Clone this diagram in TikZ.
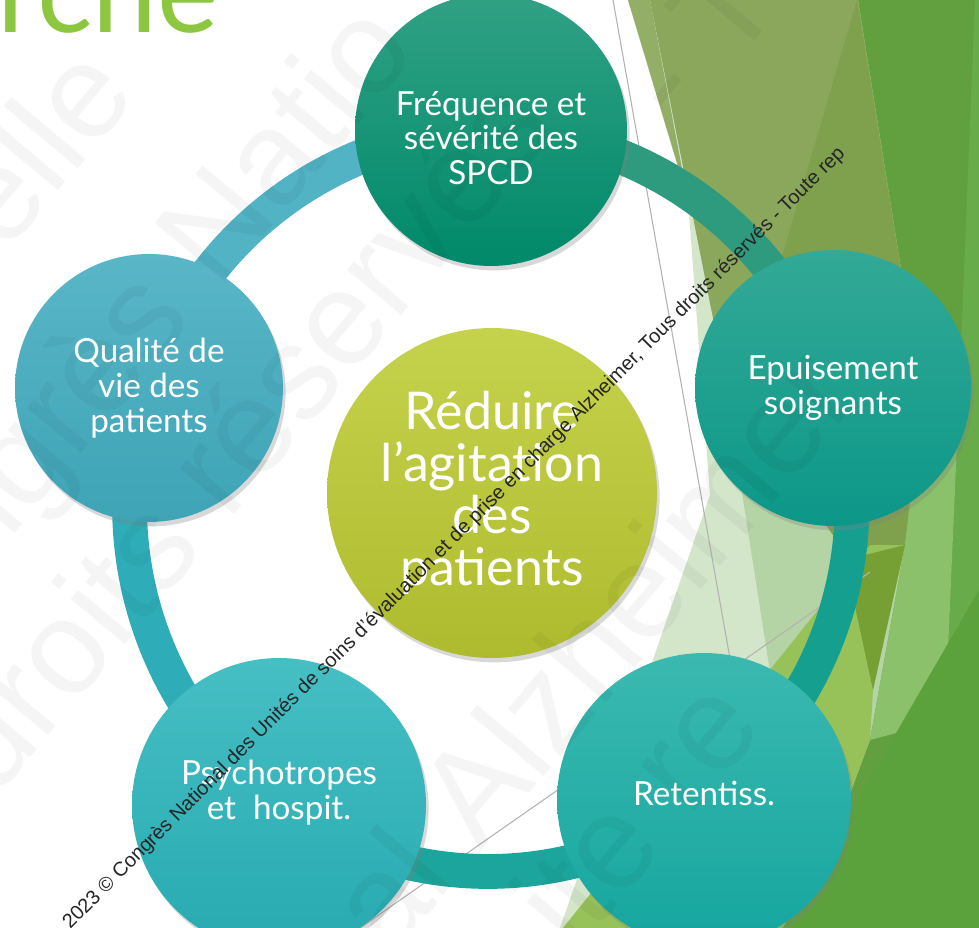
\documentclass[tikz,border=0pt]{standalone}
\usepackage{fontspec}
\setmainfont{Lato}
\newfontfamily\wmfont{Liberation Sans}
\usetikzlibrary{shadows, positioning}

\definecolor{titlegreen}{HTML}{8DC63F}
\definecolor{topA}{HTML}{31A184}\definecolor{topB}{HTML}{00896A}
\definecolor{rightA}{HTML}{33A997}\definecolor{rightB}{HTML}{0C9788}
\definecolor{brA}{HTML}{3BB9B0}\definecolor{brB}{HTML}{15A69F}
\definecolor{blA}{HTML}{46BFC4}\definecolor{blB}{HTML}{27AAB0}
\definecolor{leftA}{HTML}{59B6C7}\definecolor{leftB}{HTML}{3EA4B6}
\definecolor{midA}{HTML}{C5D24C}\definecolor{midB}{HTML}{AFBB2E}
\definecolor{arcLT}{HTML}{52B3C4}\definecolor{arcTR}{HTML}{2E9B7E}
\definecolor{arcRB}{HTML}{159F8F}\definecolor{arcBB}{HTML}{1CA59D}
\definecolor{arcBL}{HTML}{2EADB9}
\definecolor{fPale}{HTML}{D3E6CA}\definecolor{fPaleB}{HTML}{B5D4A5}
\definecolor{fGreen}{HTML}{62A03F}\definecolor{fOlive}{HTML}{8BA75C}
\definecolor{fOliveL}{HTML}{93AE66}\definecolor{fOliveD}{HTML}{7FA04D}
\definecolor{fGreenL}{HTML}{67AB4B}\definecolor{fBand}{HTML}{8AC16A}
\definecolor{fLime}{HTML}{97C159}\definecolor{fMoss}{HTML}{76A034}
\definecolor{fDeep}{HTML}{5BA23D}

\pgfdeclarelayer{bg}
\pgfdeclarelayer{ring}
\pgfsetlayers{bg,ring,main}

\tikzset{
    bubble/.style={circle, draw=none, inner sep=0pt,
        drop shadow={shadow xshift=1.5pt, shadow yshift=-2.5pt, opacity=.3}},
    bubtext/.style={text=white, align=center, inner sep=0pt,
        font=\fontsize{18.9}{19.8}\selectfont},
    ringarc/.style={line width=19.8pt, bend left=36, looseness=.94},
    guide/.style={draw=black!30, line width=.6pt},
    wmsmall/.style={font=\wmfont\fontsize{11.4}{11.4}\selectfont, text=black!85,
        rotate=45, anchor=base west, inner sep=0pt},
    wmbig/.style={font=\wmfont\fontsize{76}{76}\selectfont, text=black,
        text opacity=.04, rotate=50, anchor=base west, inner sep=0pt},
}

\begin{document}
\begin{tikzpicture}[x=0.02cm, y=-0.02cm]
    \useasboundingbox (0,0) rectangle (979,928);
    \begin{pgfonlayer}{bg}
        \fill[white] (0,0) rectangle (979,928);
        % facets on the right
        \fill[fPale] (628,0) -- (688,200) -- (710,495) -- (560,928) -- (979,928) -- (979,0) -- cycle;
        \fill[fPaleB] (665,0) -- (810,928) -- (979,928) -- (979,0) -- cycle;
        \fill[fGreen] (858,0) -- (979,0) -- (979,928) -- (800,928) -- (870,740) -- (905,545) -- (922,400) -- cycle;
        \fill[fOlive] (650,0) -- (858,0) -- (922,400) -- (850,480) -- (745,480) -- cycle;
        \fill[fOliveL] (628,0) -- (650,0) -- (688,200) -- cycle;
        \fill[fOliveD] (857,0) -- (740,400) -- (850,560) -- (905,545) -- (922,400) -- cycle;
        \fill[fGreenL] (975,0) -- (979,0) -- (979,740) -- (945,720) -- (958,420) -- cycle;
        \fill[fBand] (922,400) -- (958,420) -- (945,720) -- (870,740) -- (905,545) -- cycle;
        \fill[fLime] (563,928) -- (870,545) -- (905,545) -- (873,690) -- (870,740) -- (800,928) -- cycle;
        \fill[fMoss] (845,560) -- (905,545) -- (873,690) -- cycle;
        \fill[fDeep] (783,928) -- (979,590) -- (979,928) -- cycle;
        \draw[guide] (613,0) -- (740,715);
        \draw[guide] (360,928) -- (870,572);
    \end{pgfonlayer}

    % title, cut by the page
    \node[anchor=base west, inner sep=0pt, text=titlegreen, font=\fontsize{66}{66}\selectfont] (title) at (-3,33) {rche};

    % cycle
    \node[bubble, minimum size=5.44cm, top color=topA, bottom color=topB] (c_top) at (491,130) {};
    \node[bubble, minimum size=5.52cm, top color=rightA, bottom color=rightB] (c_right) at (833,388) {};
    \node[bubble, minimum size=5.88cm, top color=brA, bottom color=brB] (c_botright) at (704,800) {};
    \node[bubble, minimum size=5.88cm, top color=blA, bottom color=blB] (c_botleft) at (279,805) {};
    \node[bubble, minimum size=5.36cm, top color=leftA, bottom color=leftB] (c_left) at (149,388) {};
    \node[bubble, minimum size=6.6cm, top color=midA, bottom color=midB] (c_centre) at (492,493) {};

    \node[bubtext, below=4.5pt of c_top.center, anchor=center] (t_top) {Fréquence et\\sévérité des\\SPCD};
    \node[bubtext, anchor=center] (t_right) at (c_right) {Epuisement\\soignants};
    \node[bubtext, above=4pt of c_botright.center, anchor=center] (t_botright) {Retentiss.};
    \node[bubtext, above=7pt of c_botleft.center, anchor=center] (t_botleft) {Psychotropes\\et\ \ hospit.};
    \node[bubtext, anchor=center] (t_left) at (c_left) {Qualité de\\vie des\\patients};
    \node[bubtext, anchor=center, font=\fontsize{29.6}{29.5}\selectfont] (t_centre) at (c_centre) {Réduire\\l’agitation\\des\\patients};

    \begin{pgfonlayer}{ring}
        \draw[ringarc, arcLT] (c_left.center) to (c_top.center);
        \draw[ringarc, arcTR] (c_top.center) to (c_right.center);
        \draw[ringarc, arcRB] (c_right.center) to (c_botright.center);
        \draw[ringarc, arcBB] (c_botright.center) to (c_botleft.center);
        \draw[ringarc, arcBL] (c_botleft.center) to (c_left.center);
    \end{pgfonlayer}

    % watermarks
    \node[wmbig] (wm_a) at (5,255) {elle};
    \node[wmbig] (wm_b) at (-20,575) {ngrès Natio};
    \node[wmbig] (wm_c) at (-5,800) {droits réservés};
    \node[wmbig] (wm_d) at (680,130) {- To};
    \node[wmbig] (wm_e) at (390,960) {al Alzheimer};
    \node[wmbig] (wm_f) at (575,955) {ite re};
    \begin{scope}
        \clip (0,0) rectangle (848,928);
        \node[wmsmall] (wm_note) at (70,930) {2023 © Congrès National des Unités de soins d’évaluation et de prise en charge Alzheimer, Tous droits réservés - Toute rep};
    \end{scope}
\end{tikzpicture}
\end{document}
